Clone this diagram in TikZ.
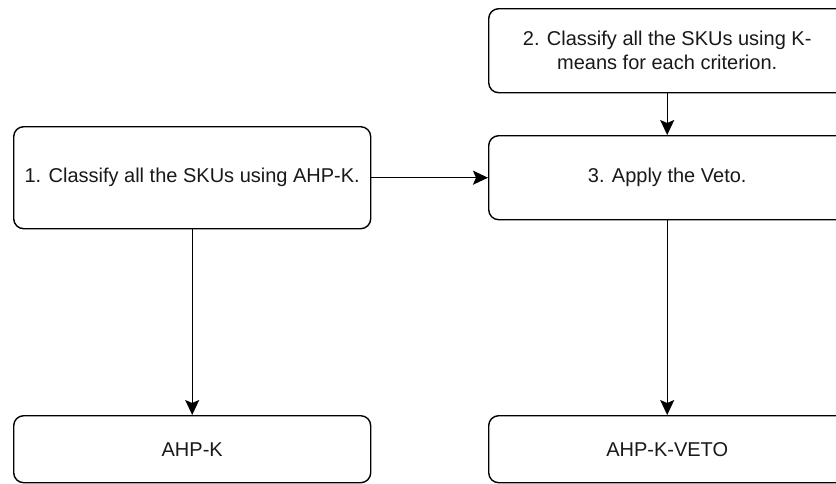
\documentclass[tikz,border=0pt]{standalone}
\usepackage{fontspec}
\setmainfont{Liberation Sans}
\usetikzlibrary{arrows.meta}
\begin{document}
\begin{tikzpicture}[x=1pt,y=-1pt,
  box/.style={draw=black, line width=1.4pt, rounded corners=10pt, fill=white,
    anchor=north west, minimum width=357pt, align=center, inner sep=0pt,
    font=\fontsize{20}{24}\selectfont, text=black!90},
  arr/.style={draw=black, line width=1.4pt, -{Stealth[length=15pt,width=14pt,inset=3pt]}}]
\clip (0,0) rectangle (836,483);
\fill[white] (0,0) rectangle (836,483);
\node[box, minimum height=102pt] (b1) at (13,126) {1. Classify all the SKUs using AHP-K.};
\node[box, minimum height=84pt] (b2) at (488,8) {2. Classify all the SKUs using K-\\means for each criterion.};
\node[box, minimum height=84pt] (b3) at (488,135) {3. Apply the Veto.};
\node[box, minimum height=67pt] (b4) at (13,415) {AHP-K};
\node[box, minimum height=67pt] (b5) at (488,415) {AHP-K-VETO};
\draw[arr] (b1.east) -- (b3.west);
\draw[arr] (b2.south) -- (b3.north);
\draw[arr] (b1.south) -- (b4.north);
\draw[arr] (b3.south) -- (b5.north);
\end{tikzpicture}
\end{document}
